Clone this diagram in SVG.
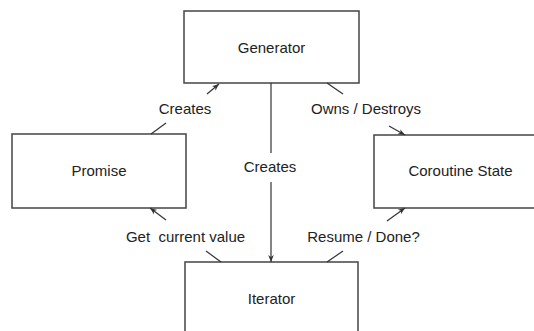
<svg xmlns="http://www.w3.org/2000/svg" width="534" height="331" viewBox="0 0 534 331">
<style>
.box{fill:#fff;stroke:#444;stroke-width:1.5}
.lbl{font-family:"Liberation Sans",Arial,sans-serif;font-size:15px;fill:#222;text-anchor:middle}
.ln{stroke:#333;stroke-width:1.2;fill:none}
</style>
<defs>
<marker id="ah" viewBox="0 0 10 10" refX="10" refY="5" markerWidth="7" markerHeight="7" orient="auto" markerUnits="userSpaceOnUse">
<path d="M0,1 L10,5 L0,9 L3,5 Z" fill="#333"/>
</marker>
</defs>
<rect width="534" height="331" fill="#fff"/>
<g id="generator"><rect class="box" x="184" y="11" width="175" height="72"/><text class="lbl" x="271.5" y="53">Generator</text></g>
<g id="promise"><rect class="box" x="12" y="134" width="174" height="74"/><text class="lbl" x="99" y="176">Promise</text></g>
<g id="coroutine-state"><rect class="box" x="374" y="135" width="173" height="73"/><text class="lbl" x="460.5" y="176">Coroutine State</text></g>
<g id="iterator"><rect class="box" x="185" y="262" width="173" height="74"/><text class="lbl" x="271.5" y="304">Iterator</text></g>
<g id="connectors">
<line class="ln" x1="271" y1="83" x2="271" y2="153"/>
<line class="ln" x1="271" y1="182" x2="271" y2="262" marker-end="url(#ah)"/>
<text class="lbl" x="270" y="172">Creates</text>
<line class="ln" x1="151" y1="134" x2="166" y2="123"/>
<line class="ln" x1="207" y1="94" x2="219" y2="84" marker-end="url(#ah)"/>
<text class="lbl" x="185" y="114">Creates</text>
<line class="ln" x1="327" y1="83" x2="343" y2="94"/>
<line class="ln" x1="389" y1="126" x2="405" y2="135" marker-end="url(#ah)"/>
<text class="lbl" x="366" y="114">Owns / Destroys</text>
<line class="ln" x1="221" y1="262" x2="206" y2="251"/>
<line class="ln" x1="166" y1="220" x2="150" y2="208" marker-end="url(#ah)"/>
<text class="lbl" x="185.5" y="242" xml:space="preserve">Get  current value</text>
<line class="ln" x1="327" y1="262" x2="343" y2="251"/>
<line class="ln" x1="387" y1="221" x2="405" y2="208" marker-end="url(#ah)"/>
<text class="lbl" x="363.5" y="242">Resume / Done?</text>
</g>
</svg>
